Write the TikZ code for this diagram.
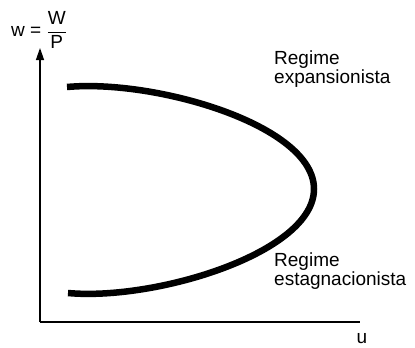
\documentclass[tikz,border=0pt]{standalone}
\usepackage{fontspec}
\setmainfont{Liberation Sans}
\usetikzlibrary{arrows.meta}
\begin{document}
\begin{tikzpicture}[x=1pt,y=-1pt,
  axisline/.style={line width=1.3pt,black},
  regcurve/.style={line width=6.5pt,black},
  lbl/.style={inner sep=0pt,align=left,font=\fontsize{19}{17}\selectfont},
  axlbl/.style={inner sep=0pt,font=\fontsize{19}{19}\selectfont}]
\useasboundingbox (0,0) rectangle (415,348);
\coordinate (origin) at (40,322);
\coordinate (ytip) at (40,48);
\coordinate (xend) at (360,322);
\draw[axisline,-{Triangle[length=12pt,width=8pt]}] (origin) -- (ytip);
\draw[axisline] (origin) -- (xend);
\draw[regcurve] (67,87) .. controls (155,79) and (314,125) .. (314,189)
  .. controls (314,253) and (155,301) .. (68,293);
\node[axlbl,anchor=west] (wlab) at (11,30) {w = $\displaystyle\frac{\mbox{W}}{\mbox{P}}$};
\node[lbl,anchor=base west] (expl) at (274,83) {Regime\\expansionista};
\node[lbl,anchor=base west] (estl) at (274,285) {Regime\\estagnacionista};
\node[axlbl,anchor=base] (ulab) at (362,343) {u};
\end{tikzpicture}
\end{document}
